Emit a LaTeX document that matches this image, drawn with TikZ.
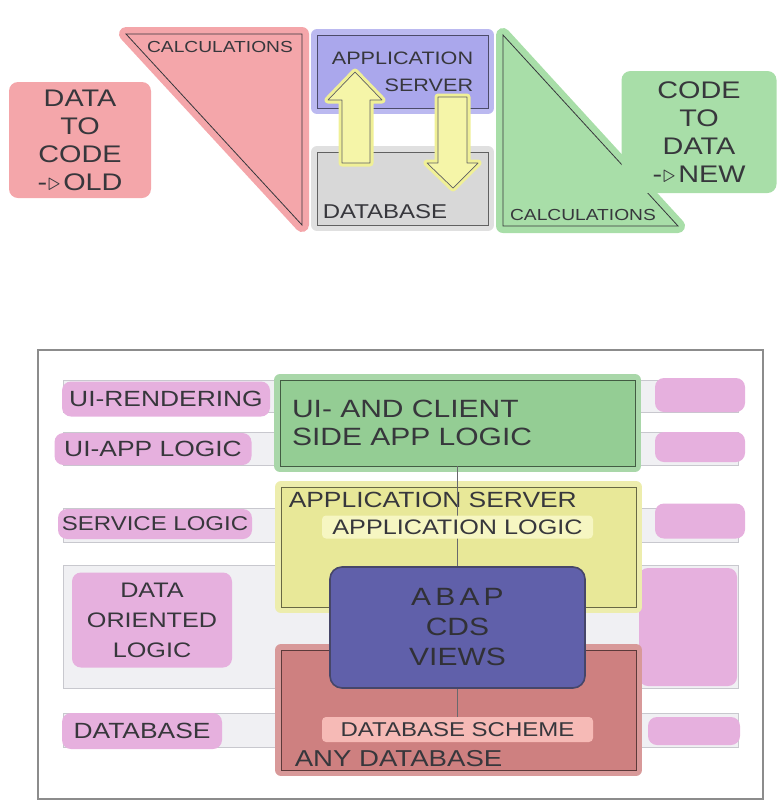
\documentclass[tikz,border=0pt]{standalone}
\usepackage{fontspec}
\setmainfont{Liberation Sans}[FakeStretch=1.2]
\usepackage{xcolor}
\usepackage{tikz}
\definecolor{ink}{RGB}{55,55,60}
\definecolor{redhl}{RGB}{244,166,170}
\definecolor{bluehl}{RGB}{170,167,236}
\definecolor{grayhl}{RGB}{216,216,216}
\definecolor{greenhl}{RGB}{168,222,168}
\definecolor{pinkhl}{RGB}{230,176,222}
\definecolor{arrowfill}{RGB}{245,245,168}
\definecolor{arrowglow}{RGB}{240,240,150}
\definecolor{greenbox}{RGB}{148,205,148}
\definecolor{yellowbox}{RGB}{232,232,152}
\definecolor{redbox}{RGB}{206,128,128}
\definecolor{cdsfill}{RGB}{96,96,170}
\definecolor{cdsstroke}{RGB}{70,70,105}
\definecolor{schemehl}{RGB}{246,186,182}
\definecolor{logichl}{RGB}{246,246,194}
\definecolor{lanefill}{RGB}{240,240,243}
\definecolor{lanestroke}{RGB}{200,200,206}
\tikzset{
  tri/.style={
    fill=#1, draw=ink, line width=0.8pt,
    preaction={draw=#1, line width=14pt, line join=round},
  },
  blob/.style={
    fill=#1, rounded corners=9pt, inner sep=0pt,
    align=center, text=ink,
  },
  box/.style={
    fill=#1, draw=#1!45!black, line width=0.9pt, inner sep=0pt,
    preaction={draw=#1!80!white, line width=12pt, line join=round},
    text=ink,
  },
  hand/.style={inner sep=0pt, text=ink, align=center},
  lane/.style={
    draw=lanestroke, fill=lanefill, line width=0.5pt,
    minimum width=675, anchor=north west, inner sep=0pt,
  },
  blockarrow/.style={
    fill=arrowfill, draw=ink!80, line width=0.7pt, line join=round,
    preaction={draw=arrowglow, line width=7pt, line join=round},
  },
  cds/.style={
    fill=cdsfill, draw=cdsstroke, line width=1.6pt, rounded corners=12pt,
    text=ink!90!black, align=center, inner sep=0pt,
  },
  link/.style={draw=ink!75, line width=1.2pt},
}

\begin{document}
\begin{tikzpicture}[x=1pt,y=-1pt]
  \useasboundingbox (0,0) rectangle (782,807);

  % data to code
  \filldraw[tri=redhl] (126,34) -- (302,34) -- (302,225) -- cycle;
  \node[hand, font=\fontsize{16}{19}\selectfont] (calcold) at (220,47) {CALCULATIONS};
  \node[blob=redhl, minimum width=142, minimum height=116, font=\fontsize{24}{28}\selectfont] (old) at (80,140)
    {DATA\\TO\\CODE\\{-}\kern1pt$\triangleright$\kern3pt OLD};

  % application server / database
  \node[box=bluehl, minimum width=171, minimum height=73, align=right, font=\fontsize{18}{27}\selectfont] (srv) at (402.5,71.5)
    {APPLICATION\\SERVER};
  \node[box=grayhl, minimum width=171, minimum height=73] (db) at (402.5,188.5) {};
  \node[hand, anchor=south west, font=\fontsize{20}{24}\selectfont] (dblbl) at ([shift={(6,-7)}]db.south west) {DATABASE};
  \filldraw[blockarrow] (342,163) -- (342,100) -- (328,100) -- (355,72) -- (382,100) -- (370,100) -- (370,163) -- cycle;
  \filldraw[blockarrow] (438,97) -- (467,97) -- (467,163) -- (478,163) -- (453,188) -- (427,163) -- (438,163) -- cycle;

  % code to data
  \filldraw[tri=greenhl] (503,35) -- (503,226) -- (678,226) -- cycle;
  \node[hand, font=\fontsize{16}{19}\selectfont] (calcnew) at (583,215) {CALCULATIONS};
  \node[blob=greenhl, minimum width=155, minimum height=122, font=\fontsize{24}{28}\selectfont] (new) at (699,132)
    {CODE\\TO\\DATA\\{-}\kern1pt$\triangleright$\kern3pt NEW};

  % layers
  \draw[draw=black!45, line width=1.2pt] (38,350) rectangle (763,799);
  \foreach \y/\h [count=\i] in {380/32, 432/33, 508/34, 565/123, 713/34}
    \node[lane, minimum height=\h] (lane\i) at (63,\y) {};

  \node[blob=pinkhl, minimum width=208, minimum height=35, font=\fontsize{22}{27}\selectfont] (uirender) at (166,399) {UI-RENDERING};
  \node[blob=pinkhl, minimum width=197, minimum height=32, font=\fontsize{22}{27}\selectfont] (uiapp) at (153,449) {UI-APP LOGIC};
  \node[blob=pinkhl, minimum width=194, minimum height=30, font=\fontsize{20}{27}\selectfont] (service) at (155,524) {SERVICE LOGIC};
  \node[blob=pinkhl, minimum width=160, minimum height=95, font=\fontsize{21}{30}\selectfont] (dataor) at (152,620) {DATA\\ORIENTED\\LOGIC};
  \node[blob=pinkhl, minimum width=160, minimum height=36, font=\fontsize{22}{27}\selectfont] (dblayer) at (142,731) {DATABASE};

  \foreach \x/\y/\w/\h [count=\i] in {700/395/90/34, 700/447/90/30, 700/521/90/35, 688/627/98/118, 694/731/92/28}
    \node[blob=pinkhl, minimum width=\w, minimum height=\h] (tag\i) at (\x,\y) {};

  % stack
  \node[box=greenbox, minimum width=355, minimum height=86, text width=331, align=left, font=\fontsize{25}{28}\selectfont] (client) at (457.5,423)
    {UI- AND CLIENT\\SIDE APP LOGIC};
  \node[box=yellowbox, minimum width=355, minimum height=120] (appsrv) at (458.5,547) {};
  \node[hand, anchor=north west, font=\fontsize{22}{26}\selectfont] (appsrvlbl) at ([shift={(8,5)}]appsrv.north west) {APPLICATION SERVER};
  \node[box=redbox, minimum width=355, minimum height=120] (anydb) at (458.5,710) {};
  \node[hand, anchor=south west, font=\fontsize{23}{26}\selectfont] (anydblbl) at ([shift={(14,-4)}]anydb.south west) {ANY DATABASE};
  \node[blob=schemehl, rounded corners=4pt, minimum width=271, minimum height=25, font=\fontsize{20}{24}\selectfont] (scheme) at (457.5,729.5)
    {DATABASE SCHEME};
  \draw[link] (client.south) -- (scheme.north);
  \node[blob=logichl, rounded corners=4pt, minimum width=271, minimum height=23, font=\fontsize{21}{24}\selectfont] (logic) at (457.5,527)
    {APPLICATION LOGIC};
  \node[cds, minimum width=255, minimum height=121, font=\fontsize{25}{30}\selectfont] (cds) at (457.5,627.5)
    {A\,B\,A\,P\\CDS\\VIEWS};
\end{tikzpicture}
\end{document}
